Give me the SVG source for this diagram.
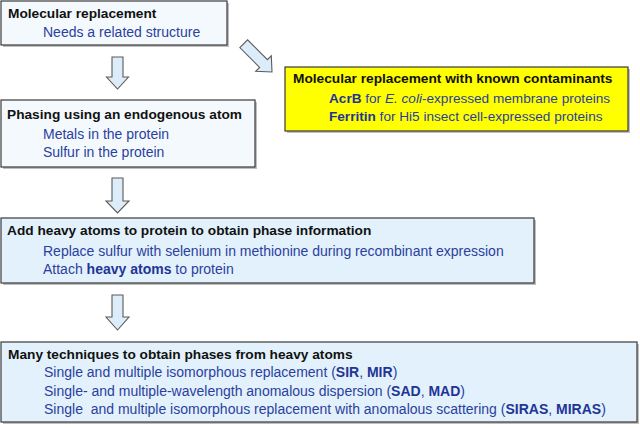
<svg xmlns="http://www.w3.org/2000/svg" width="640" height="428" viewBox="0 0 640 428">
<defs>
<style>
text{font-family:"Liberation Sans",Arial,sans-serif;font-size:14px}
.t{font-weight:bold;fill:#111;font-size:13.7px}
.b{fill:#2b3f9e}
.y{font-size:13.6px}
.bb{font-weight:bold;fill:#1f3596}
.box{fill:#e2f1fb;stroke:#3a3a3a;stroke-width:1.2}
.box1{fill:#f4f9fd;stroke:#3a3a3a;stroke-width:1.2}
.ybox{fill:#ffff00;stroke:#3a3a3a;stroke-width:1.2}
.sh{fill:#8a8a8a;opacity:0.55}
.arr{fill:#dcedf9;stroke:#5a5a5a;stroke-width:1.1;stroke-linejoin:miter}
</style>
</defs>
<rect width="640" height="428" fill="#ffffff"/>
<g id="connectors">
<polygon class="arr" points="112,57 123,57 123,77 128.5,77 117.5,89 106.5,77 112,77"/>
<polygon class="arr" points="112,178 123,178 123,201 129,201 117.5,213 106,201 112,201"/>
<polygon class="arr" points="112,295 123,295 123,317 129,317 117.5,330 106,317 112,317"/>
<polygon class="arr" transform="translate(272,72) rotate(-45)" points="-5.5,-40 5.5,-40 5.5,-12 11,-12 0,0 -11,-12 -5.5,-12"/>
</g>
<g id="node-mr">
<rect class="sh" x="3" y="3" width="226" height="44"/>
<rect class="box1" x="1" y="1" width="226" height="44"/>
<text class="t" x="8" y="18">Molecular replacement</text>
<text class="b" x="43" y="37">Needs a related structure</text>
</g>
<g id="node-contaminants">
<rect class="sh" x="287" y="69" width="343" height="64"/>
<rect class="ybox" x="285" y="67" width="343" height="64"/>
<text class="t" x="293" y="83">Molecular replacement with known contaminants</text>
<text class="b y" x="329" y="103"><tspan class="bb">AcrB</tspan> for <tspan font-style="italic">E. coli</tspan>-expressed membrane proteins</text>
<text class="b y" x="329" y="121"><tspan class="bb">Ferritin</tspan> for Hi5 insect cell-expressed proteins</text>
</g>
<g id="node-endogenous">
<rect class="sh" x="3" y="102" width="254" height="67"/>
<rect class="box1" x="1" y="100" width="254" height="67"/>
<text class="t" x="7" y="119">Phasing using an endogenous atom</text>
<text class="b" x="43" y="139">Metals in the protein</text>
<text class="b" x="43" y="157">Sulfur in the protein</text>
</g>
<g id="node-heavy">
<rect class="sh" x="3" y="220" width="533" height="65"/>
<rect class="box" x="1" y="218" width="533" height="65"/>
<text class="t" x="7" y="235">Add heavy atoms to protein to obtain phase information</text>
<text class="b" x="43" y="256">Replace sulfur with selenium in methionine during recombinant expression</text>
<text class="b" x="43" y="274">Attach <tspan class="bb">heavy atoms</tspan> to protein</text>
</g>
<g id="node-techniques">
<rect class="sh" x="3" y="344" width="636" height="80"/>
<rect class="box" x="1" y="342" width="636" height="80"/>
<text class="t" x="8" y="359">Many techniques to obtain phases from heavy atoms</text>
<text class="b" x="44" y="377">Single and multiple isomorphous replacement (<tspan class="bb">SIR</tspan>, <tspan class="bb">MIR</tspan>)</text>
<text class="b" x="44" y="396">Single- and multiple-wavelength anomalous dispersion (<tspan class="bb">SAD</tspan>, <tspan class="bb">MAD</tspan>)</text>
<text class="b" x="44" y="414" xml:space="preserve" style="white-space:pre">Single  and multiple isomorphous replacement with anomalous scattering (<tspan class="bb">SIRAS</tspan>, <tspan class="bb">MIRAS</tspan>)</text>
</g>
</svg>
